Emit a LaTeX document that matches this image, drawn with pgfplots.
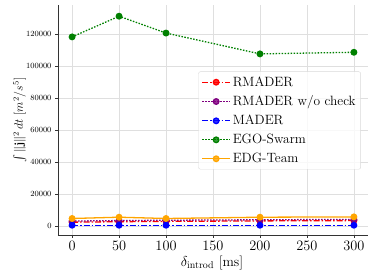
\documentclass[border=0pt]{standalone}
\usepackage{pgfplots}
\pgfplotsset{compat=1.18}
\usepackage{amsmath}
\definecolor{mporange}{RGB}{255,165,0}
\definecolor{mppurple}{RGB}{128,0,128}
\definecolor{mpgreen}{RGB}{0,128,0}
\begin{document}
\begin{tikzpicture}
\useasboundingbox (-58bp,-43bp) rectangle (316bp,235bp);
\begin{axis}[
  at={(0,0)}, anchor=south west,
  width=310bp, height=230bp, scale only axis,
  xmin=-15, xmax=315, ymin=-5500, ymax=138000,
  axis x line*=bottom, axis y line*=left,
  axis line style={line width=0.8pt, black!80},
  xtick={0,50,100,150,200,250,300},
  ytick={0,20000,40000,60000,80000,100000,120000},
  scaled y ticks=false,
  yticklabel style={font=\fontsize{8.5}{9}\selectfont, /pgf/number format/fixed, /pgf/number format/1000 sep={}},
  xticklabel style={font=\fontsize{14}{16}\selectfont},
  grid=major, grid style={gray!25, line width=0.6pt},
  tick style={black!80},
  major tick length=3pt,
  xtick align=outside, ytick align=outside,
  xlabel={$\delta_{\mathrm{introd}}$ [ms]},
  ylabel={$\int \|\mathbf{j}\|^2\, dt\ [m^2/s^5]$},
  xlabel style={font=\fontsize{14}{16}\selectfont, at={(axis description cs:0.497,-0.122)}, anchor=center},
  ylabel style={font=\fontsize{12}{14}\selectfont, at={(axis description cs:-0.123,0.5)}, anchor=center},
  legend style={at={(0.977,0.498)}, anchor=east, font=\fontsize{13.5}{15}\selectfont,
    draw=black!15, rounded corners=2pt, fill=white, fill opacity=0.8, text opacity=1,
    row sep=4pt, inner sep=3pt},
  legend cell align=left,
  legend image code/.code={\draw[#1, mark repeat=2, mark phase=2] plot coordinates {(0bp,0bp) (14bp,0bp) (28bp,0bp)};},
]
\addplot[draw=red, line width=1.3pt, dash pattern=on 6bp off 2bp on 1.5bp off 2bp, mark=*, mark size=2.8pt, mark options={solid, fill=red, draw=red}] coordinates {(0,2500) (50,2800) (100,3000) (200,3300) (300,3500)};
\addlegendentry{RMADER}
\addplot[draw=mppurple, line width=1.3pt, dash pattern=on 1.5bp off 1.5bp, mark=*, mark size=2.8pt, mark options={solid, fill=mppurple, draw=mppurple}] coordinates {(0,3200) (50,3500) (100,3700) (200,4000) (300,4200)};
\addlegendentry{RMADER w/o check}
\addplot[draw=blue, line width=1.3pt, dash pattern=on 6bp off 2bp on 1.5bp off 2bp, mark=*, mark size=2.8pt, mark options={solid, fill=blue, draw=blue}] coordinates {(0,600) (50,600) (100,600) (200,600) (300,600)};
\addlegendentry{MADER}
\addplot[draw=mpgreen, line width=1.3pt, dash pattern=on 1.5bp off 1.5bp, mark=*, mark size=2.8pt, mark options={solid, fill=mpgreen, draw=mpgreen}] coordinates {(0,118100) (50,131000) (100,120500) (200,107500) (300,108500)};
\addlegendentry{EGO-Swarm}
\addplot[draw=mporange, line width=1.3pt, solid, mark=*, mark size=2.8pt, mark options={solid, fill=mporange, draw=mporange}] coordinates {(0,4800) (50,5600) (100,4800) (200,5600) (300,5800)};
\addlegendentry{EDG-Team}
\end{axis}
\end{tikzpicture}
\end{document}
